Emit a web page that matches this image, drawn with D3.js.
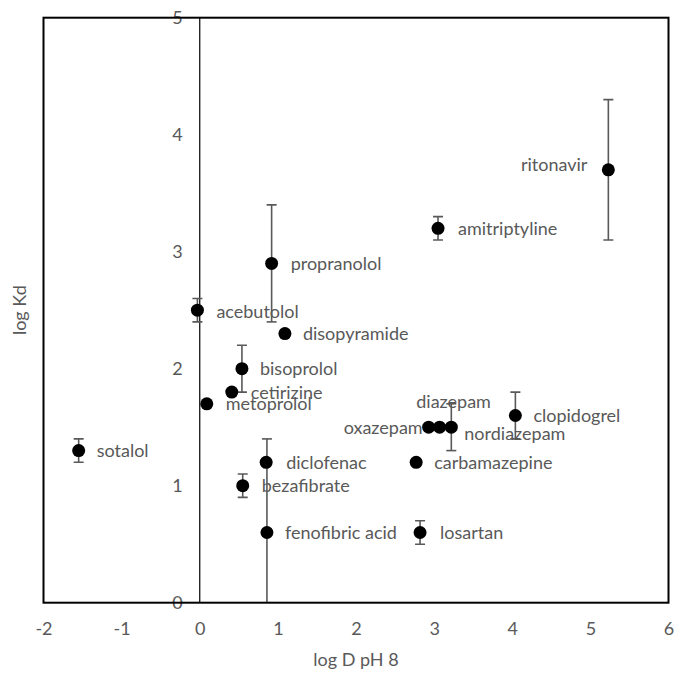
<!DOCTYPE html>
<html><head><meta charset="utf-8">
<script src="https://cdn.jsdelivr.net/npm/d3@7"></script>
<style>body{margin:0;background:#fff}</style>
</head><body>
<script>
// data
const names = ["sotalol","acebutolol","metoprolol","cetirizine","bisoprolol","propranolol","disopyramide","diclofenac","bezafibrate","fenofibric acid","losartan","carbamazepine","oxazepam","diazepam","nordiazepam","clopidogrel","amitriptyline","ritonavir"];
const logD = [-1.55,-0.03,0.09,0.41,0.54,0.92,1.09,0.85,0.55,0.86,2.82,2.77,2.93,3.07,3.22,4.04,3.05,5.23];
const logKd = [1.3,2.5,1.7,1.8,2.0,2.9,2.3,1.2,1.0,0.6,0.6,1.2,1.5,1.5,1.5,1.6,3.2,3.7];
const errKd = [0.1,0.1,0,0,0.2,0.5,0.03,0,0.1,0.8,0.1,0,0,0,0.2,0.2,0.1,0.6];
const xTicks = [-2,-1,0,1,2,3,4,5,6];
const yTicks = [0,1,2,3,4,5];
// label placement (style): anchor, dx, dy in px relative to point
const labelPlace = [
 ["start",18,0],["start",19,1],["start",19,0],["start",19,1],["start",18,0],["start",19,0],
 ["start",18,0],["start",20,0],["start",19,0],["start",18,0],["start",20,0],["start",18,0],
 ["end",-6,0],["middle",14,-26],["start",13,6],["start",18,0],["start",20,0],["end",-21,-5]
];

const W=675,H=675;
const L=43.5,R=668.5,T=17.7,B=602.7;
const FS="18px";
const svg=d3.select("body").append("svg").attr("width",W).attr("height",H)
  .style("font-family","Lato, 'Open Sans', sans-serif");
const x=d3.scaleLinear().domain([-2,6]).range([L,R]);
const y=d3.scaleLinear().domain([0,5]).range([B,T]);
const grey="#595959";

svg.append("clipPath").attr("id","clip").append("rect")
  .attr("x",L).attr("y",T).attr("width",R-L).attr("height",B-T);

// x axis labels
const xa=svg.append("g").attr("transform",`translate(0,${B})`)
  .call(d3.axisBottom(x).tickValues(xTicks).tickSize(0).tickPadding(20).tickFormat(d=>String(d)));
xa.select(".domain").remove();
xa.selectAll("text").attr("fill",grey).style("font-size",FS).style("font-family","Lato, sans-serif");

// y axis at x=0
const ya=svg.append("g").attr("transform",`translate(${x(0)},0)`)
  .call(d3.axisLeft(y).tickValues(yTicks).tickSize(0).tickPadding(17).tickFormat(d=>String(d)));
ya.select(".domain").attr("stroke","#000").attr("stroke-width",1.2).attr("d",`M0,${T}V${B}`);
ya.selectAll("text").attr("fill",grey).style("font-size",FS).style("font-family","Lato, sans-serif");

// error bars
const data=names.map((n,i)=>({n,x:logD[i],y:logKd[i],e:errKd[i],p:labelPlace[i]}));
const eb=svg.append("g").attr("clip-path","url(#clip)").attr("stroke","#595959").attr("stroke-width",1.6).attr("fill","none");
data.filter(d=>d.e>0).forEach(d=>{
  const cx=x(d.x), y1=y(d.y+d.e), y0=y(d.y-d.e);
  eb.append("line").attr("x1",cx).attr("x2",cx).attr("y1",y1).attr("y2",y0);
  eb.append("line").attr("x1",cx-5).attr("x2",cx+5).attr("y1",y1).attr("y2",y1);
  eb.append("line").attr("x1",cx-5).attr("x2",cx+5).attr("y1",y0).attr("y2",y0);
});

// points
svg.append("g").selectAll("circle").data(data).join("circle")
  .attr("cx",d=>x(d.x)).attr("cy",d=>y(d.y)).attr("r",6.5).attr("fill","#000");

// labels
svg.append("g").selectAll("text").data(data).join("text")
  .attr("x",d=>x(d.x)+d.p[1]).attr("y",d=>y(d.y)+d.p[2]).attr("dy","0.35em")
  .attr("text-anchor",d=>d.p[0]).attr("fill",grey).style("font-size",FS)
  .text(d=>d.n);

// frame
svg.append("rect").attr("x",L).attr("y",T).attr("width",R-L).attr("height",B-T)
  .attr("fill","none").attr("stroke","#000").attr("stroke-width",2);

// titles
svg.append("text").attr("x",(L+R)/2).attr("y",660).attr("dy","0.35em").attr("text-anchor","middle")
  .attr("fill",grey).style("font-size",FS).text("log D pH 8");
svg.append("text").attr("transform",`translate(20,${(T+B)/2}) rotate(-90)`).attr("dy","0.35em")
  .attr("text-anchor","middle").attr("fill",grey).style("font-size",FS).text("log Kd");
</script>
</body></html>
